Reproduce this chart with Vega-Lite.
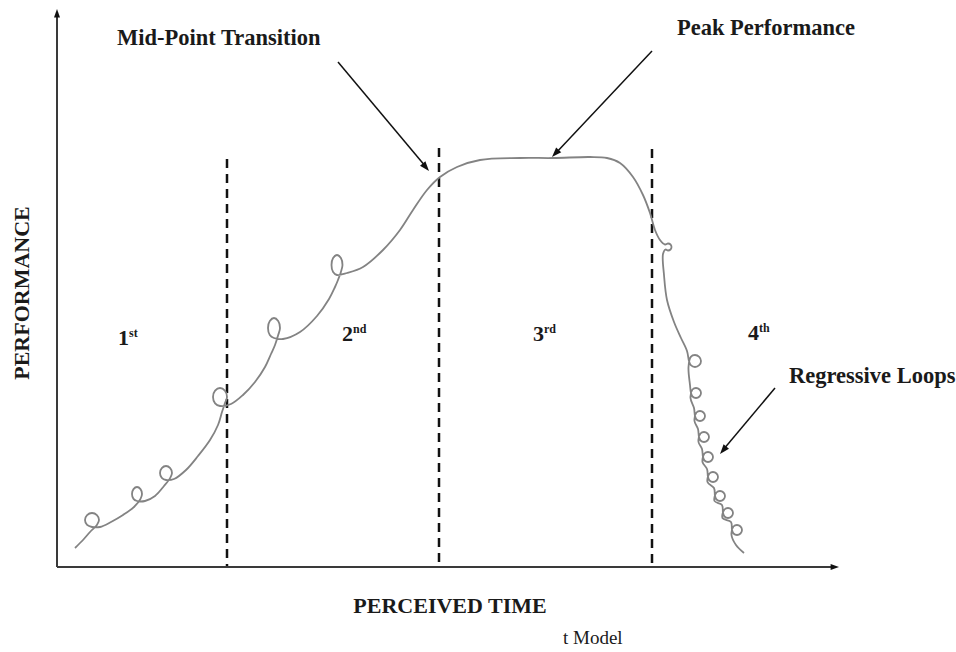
{
  "$schema": "https://vega.github.io/schema/vega-lite/v6.json",
  "width": 956,
  "height": 652,
  "padding": 0,
  "autosize": {"type": "fit", "contains": "padding"},
  "background": "white",
  "config": {"view": {"stroke": null}},
  "datasets": {
    "curve": [
      {"i":1,"t":75,"p":548},{"i":2,"t":83,"p":540},{"i":3,"t":90,"p":532},
      {"i":4,"t":96.9,"p":524.9},{"i":5,"t":99,"p":520},{"i":6,"t":96.9,"p":515.1},{"i":7,"t":92,"p":513},{"i":8,"t":87.1,"p":515.1},{"i":9,"t":85,"p":520},{"i":10,"t":87.1,"p":524.9},{"i":11,"t":92,"p":527},
      {"i":12,"t":100,"p":527},{"i":13,"t":111,"p":522},{"i":14,"t":123,"p":515},{"i":15,"t":134,"p":507},
      {"i":16,"t":140.5,"p":498.9},{"i":17,"t":142,"p":494},{"i":18,"t":140.5,"p":489.1},{"i":19,"t":137,"p":487},{"i":20,"t":133.5,"p":489.1},{"i":21,"t":132,"p":494},{"i":22,"t":133.5,"p":498.9},{"i":23,"t":137,"p":501},
      {"i":24,"t":145,"p":501},{"i":25,"t":155,"p":496},{"i":26,"t":164,"p":486},
      {"i":27,"t":170.2,"p":477.9},{"i":28,"t":172,"p":473},{"i":29,"t":170.2,"p":468.1},{"i":30,"t":166,"p":466},{"i":31,"t":161.8,"p":468.1},{"i":32,"t":160,"p":473},{"i":33,"t":161.8,"p":477.9},{"i":34,"t":166,"p":480},
      {"i":35,"t":174,"p":479},{"i":36,"t":186,"p":470},{"i":37,"t":198,"p":456},{"i":38,"t":210,"p":440},{"i":39,"t":218,"p":425},{"i":40,"t":222,"p":412},
      {"i":41,"t":224.9,"p":403.3},{"i":42,"t":227,"p":397},{"i":43,"t":224.9,"p":390.7},{"i":44,"t":220,"p":388},{"i":45,"t":215.1,"p":390.7},{"i":46,"t":213,"p":397},{"i":47,"t":215.1,"p":403.3},{"i":48,"t":220,"p":406},
      {"i":49,"t":231,"p":404},{"i":50,"t":243,"p":395},{"i":51,"t":255,"p":382},{"i":52,"t":265,"p":367},{"i":53,"t":271,"p":354},{"i":54,"t":275,"p":345},
      {"i":55,"t":278.2,"p":335},{"i":56,"t":280,"p":328},{"i":57,"t":278.2,"p":321},{"i":58,"t":274,"p":318},{"i":59,"t":269.8,"p":321},{"i":60,"t":268,"p":328},{"i":61,"t":269.8,"p":335},{"i":62,"t":274,"p":338},
      {"i":63,"t":283,"p":339},{"i":64,"t":300,"p":332},{"i":65,"t":317,"p":316},{"i":66,"t":329,"p":299},{"i":67,"t":335,"p":287},{"i":68,"t":338,"p":280},
      {"i":69,"t":340.9,"p":272},{"i":70,"t":342.5,"p":265},{"i":71,"t":340.9,"p":258},{"i":72,"t":337,"p":255},{"i":73,"t":333.1,"p":258},{"i":74,"t":331.5,"p":265},{"i":75,"t":333.1,"p":272},{"i":76,"t":337,"p":275},
      {"i":77,"t":347,"p":273},{"i":78,"t":363,"p":267},{"i":79,"t":383,"p":250},{"i":80,"t":400,"p":230},{"i":81,"t":413,"p":210},
      {"i":82,"t":427,"p":190},{"i":83,"t":440,"p":177},{"i":84,"t":457,"p":167},{"i":85,"t":480,"p":160},{"i":86,"t":520,"p":158},
      {"i":87,"t":553,"p":158},{"i":88,"t":590,"p":157},{"i":89,"t":607,"p":158},{"i":90,"t":620,"p":163},{"i":91,"t":633,"p":177},
      {"i":92,"t":643,"p":195},{"i":93,"t":650,"p":213},{"i":94,"t":655,"p":230},{"i":95,"t":660,"p":240},
      {"i":96,"t":665,"p":244.5},{"i":97,"t":668,"p":243.5},{"i":98,"t":670.5,"p":244.5},{"i":99,"t":671.5,"p":247},{"i":100,"t":670.5,"p":249.5},{"i":101,"t":668,"p":250.5},{"i":102,"t":665.5,"p":249.5},{"i":103,"t":663,"p":254},
      {"i":104,"t":664,"p":275},{"i":105,"t":667,"p":300},{"i":106,"t":674,"p":322},{"i":107,"t":681,"p":338},{"i":108,"t":687,"p":351},
      {"i":109,"t":689,"p":361},{"i":110,"t":690.8,"p":365.2},{"i":111,"t":695,"p":367},{"i":112,"t":699.2,"p":365.2},{"i":113,"t":701,"p":361},{"i":114,"t":699.2,"p":356.8},{"i":115,"t":695,"p":355},{"i":116,"t":690.8,"p":356.8},{"i":117,"t":688.5,"p":367},
      {"i":118,"t":690,"p":385},{"i":119,"t":691,"p":393},{"i":120,"t":692.5,"p":396.5},{"i":121,"t":696,"p":398},{"i":122,"t":699.5,"p":396.5},{"i":123,"t":701,"p":393},{"i":124,"t":699.5,"p":389.5},{"i":125,"t":696,"p":388},{"i":126,"t":692.5,"p":389.5},{"i":127,"t":690.5,"p":398},
      {"i":128,"t":694,"p":408},{"i":129,"t":695,"p":416},{"i":130,"t":696.5,"p":419.5},{"i":131,"t":700,"p":421},{"i":132,"t":703.5,"p":419.5},{"i":133,"t":705,"p":416},{"i":134,"t":703.5,"p":412.5},{"i":135,"t":700,"p":411},{"i":136,"t":696.5,"p":412.5},{"i":137,"t":694.5,"p":421},
      {"i":138,"t":698,"p":429},{"i":139,"t":699,"p":437},{"i":140,"t":700.5,"p":440.5},{"i":141,"t":704,"p":442},{"i":142,"t":707.5,"p":440.5},{"i":143,"t":709,"p":437},{"i":144,"t":707.5,"p":433.5},{"i":145,"t":704,"p":432},{"i":146,"t":700.5,"p":433.5},{"i":147,"t":698.5,"p":442},
      {"i":148,"t":702,"p":449},{"i":149,"t":703,"p":457},{"i":150,"t":704.5,"p":460.5},{"i":151,"t":708,"p":462},{"i":152,"t":711.5,"p":460.5},{"i":153,"t":713,"p":457},{"i":154,"t":711.5,"p":453.5},{"i":155,"t":708,"p":452},{"i":156,"t":704.5,"p":453.5},{"i":157,"t":702.5,"p":462},
      {"i":158,"t":707,"p":469},{"i":159,"t":708,"p":477},{"i":160,"t":709.5,"p":480.5},{"i":161,"t":713,"p":482},{"i":162,"t":716.5,"p":480.5},{"i":163,"t":718,"p":477},{"i":164,"t":716.5,"p":473.5},{"i":165,"t":713,"p":472},{"i":166,"t":709.5,"p":473.5},{"i":167,"t":707.5,"p":482},
      {"i":168,"t":714,"p":488},{"i":169,"t":715,"p":496},{"i":170,"t":716.5,"p":499.5},{"i":171,"t":720,"p":501},{"i":172,"t":723.5,"p":499.5},{"i":173,"t":725,"p":496},{"i":174,"t":723.5,"p":492.5},{"i":175,"t":720,"p":491},{"i":176,"t":716.5,"p":492.5},{"i":177,"t":714.5,"p":501},
      {"i":178,"t":722,"p":505},{"i":179,"t":723,"p":513},{"i":180,"t":724.5,"p":516.5},{"i":181,"t":728,"p":518},{"i":182,"t":731.5,"p":516.5},{"i":183,"t":733,"p":513},{"i":184,"t":731.5,"p":509.5},{"i":185,"t":728,"p":508},{"i":186,"t":724.5,"p":509.5},{"i":187,"t":722.5,"p":518},
      {"i":188,"t":731,"p":522},{"i":189,"t":732,"p":530},{"i":190,"t":733.5,"p":533.5},{"i":191,"t":737,"p":535},{"i":192,"t":740.5,"p":533.5},{"i":193,"t":742,"p":530},{"i":194,"t":740.5,"p":526.5},{"i":195,"t":737,"p":525},{"i":196,"t":733.5,"p":526.5},{"i":197,"t":731.5,"p":535},
      {"i":198,"t":736,"p":545},{"i":199,"t":744,"p":553}
    ],
    "axes": [
      {"t":57,"p":567,"t2":835,"p2":567},
      {"t":57,"p":567,"t2":57,"p2":14}
    ],
    "arrows": [
      {"t":338,"p":62,"t2":426,"p2":167},
      {"t":652,"p":51,"t2":555,"p2":154},
      {"t":775,"p":388,"t2":723,"p2":450}
    ],
    "axisHeads": [
      {"t":57,"p":9,"a":0},
      {"t":839,"p":567,"a":90}
    ],
    "arrowHeads": [
      {"t":429,"p":171,"a":140},
      {"t":552,"p":157,"a":223},
      {"t":720,"p":454,"a":220}
    ],
    "dividers": [
      {"t":227,"p":159,"p2":566},
      {"t":439,"p":148,"p2":566},
      {"t":652,"p":149,"p2":566}
    ],
    "notes": [
      {"t":117,"p":45,"label":"Mid-Point Transition"},
      {"t":677,"p":35,"label":"Peak Performance"},
      {"t":789,"p":383,"label":"Regressive Loops"}
    ],
    "stages": [
      {"t":118,"p":345,"label":"1"},
      {"t":342,"p":341,"label":"2"},
      {"t":533,"p":341,"label":"3"},
      {"t":748,"p":340,"label":"4"}
    ],
    "sups": [
      {"t":129,"p":337,"label":"st"},
      {"t":353,"p":333,"label":"nd"},
      {"t":544,"p":333,"label":"rd"},
      {"t":759,"p":332,"label":"th"}
    ],
    "xtitle": [{"t":450,"p":613,"label":"PERCEIVED TIME"}],
    "ytitle": [{"t":22,"p":293,"label":"PERFORMANCE"}],
    "caption": [{"t":563,"p":644,"label":"t Model"}]
  },
  "encoding": {
    "x": {"field": "t", "type": "quantitative", "scale": {"domain": [0, 956]}, "axis": null},
    "y": {"field": "p", "type": "quantitative", "scale": {"domain": [0, 652], "reverse": true}, "axis": null}
  },
  "layer": [
    {
      "data": {"name": "axes"},
      "mark": {"type": "rule", "color": "#3a3a3a", "strokeWidth": 2},
      "encoding": {"x2": {"field": "t2"}, "y2": {"field": "p2"}}
    },
    {
      "data": {"name": "axisHeads"},
      "mark": {"type": "point", "shape": "M0,0L-0.5,1.4L0.5,1.4Z", "filled": true, "color": "#111111", "size": 144, "opacity": 1},
      "encoding": {"angle": {"field": "a", "type": "quantitative", "scale": null}}
    },
    {
      "data": {"name": "dividers"},
      "mark": {"type": "rule", "color": "#111111", "strokeWidth": 2.5, "strokeDash": [9, 6]},
      "encoding": {"y2": {"field": "p2"}}
    },
    {
      "data": {"name": "curve"},
      "mark": {"type": "line", "color": "#838383", "strokeWidth": 1.8, "interpolate": "catmull-rom"},
      "encoding": {"order": {"field": "i", "type": "quantitative"}}
    },
    {
      "data": {"name": "arrows"},
      "mark": {"type": "rule", "color": "#111111", "strokeWidth": 1.5},
      "encoding": {"x2": {"field": "t2"}, "y2": {"field": "p2"}}
    },
    {
      "data": {"name": "arrowHeads"},
      "mark": {"type": "point", "shape": "M0,0L-0.5,1.4L0.5,1.4Z", "filled": true, "color": "#111111", "size": 196, "opacity": 1},
      "encoding": {"angle": {"field": "a", "type": "quantitative", "scale": null}}
    },
    {
      "data": {"name": "notes"},
      "mark": {"type": "text", "font": "Liberation Serif", "fontWeight": "bold", "fontSize": 22.5, "align": "left", "baseline": "alphabetic", "color": "#1a1a1a"},
      "encoding": {"text": {"field": "label"}}
    },
    {
      "data": {"name": "stages"},
      "mark": {"type": "text", "font": "Liberation Serif", "fontWeight": "bold", "fontSize": 22, "align": "left", "baseline": "alphabetic", "color": "#1a1a1a"},
      "encoding": {"text": {"field": "label"}}
    },
    {
      "data": {"name": "sups"},
      "mark": {"type": "text", "font": "Liberation Serif", "fontWeight": "bold", "fontSize": 12, "align": "left", "baseline": "alphabetic", "color": "#1a1a1a"},
      "encoding": {"text": {"field": "label"}}
    },
    {
      "data": {"name": "xtitle"},
      "mark": {"type": "text", "font": "Liberation Serif", "fontWeight": "bold", "fontSize": 22, "align": "center", "baseline": "alphabetic", "color": "#1a1a1a"},
      "encoding": {"text": {"field": "label"}}
    },
    {
      "data": {"name": "ytitle"},
      "mark": {"type": "text", "font": "Liberation Serif", "fontWeight": "bold", "fontSize": 22, "align": "center", "baseline": "middle", "angle": 270, "color": "#1a1a1a"},
      "encoding": {"text": {"field": "label"}}
    },
    {
      "data": {"name": "caption"},
      "mark": {"type": "text", "font": "Liberation Serif", "fontSize": 19, "align": "left", "baseline": "alphabetic", "color": "#1a1a1a"},
      "encoding": {"text": {"field": "label"}}
    }
  ]
}
